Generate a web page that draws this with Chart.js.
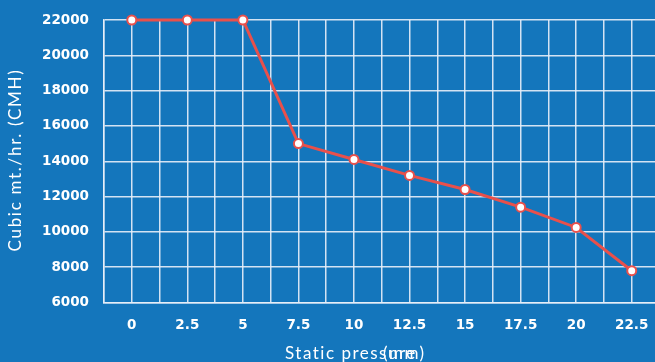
<!DOCTYPE html>
<html>
<head>
<meta charset="utf-8">
<script src="https://cdn.jsdelivr.net/npm/chart.js@4.4.0/dist/chart.umd.min.js"></script>
<style>
  html, body { margin: 0; padding: 0; background: #1476bc; overflow: hidden; }
  #wrap { width: 666px; height: 362px; }
</style>
</head>
<body>
<div id="wrap"><canvas id="grafico"></canvas></div>
<script>
// Dados
const pressoes = [0, 2.5, 5, 7.5, 10, 12.5, 15, 17.5, 20, 22.5];
const vazoes = [22000, 22000, 22000, 15000, 14100, 13200, 12400, 11400, 10250, 7800];
const yTicks = [6000, 8000, 10000, 12000, 14000, 16000, 18000, 20000, 22000];

const corGrade = 'rgba(232, 240, 248, 0.9)';
const corLinha = '#e9504b';

// Títulos dos eixos desenhados à mão (o original sobrepõe "(mm)" a "ure")
const titulos = {
    id: 'titulos',
    afterDraw(chart) {
        const c = chart.ctx;
        c.save();
        c.fillStyle = '#ffffff';
        c.font = '17px Lato';
        c.letterSpacing = '1.5px';
        c.textBaseline = 'alphabetic';
        c.textAlign = 'left';
        c.fillText('Static pressure', 285, 359);
        c.fillText('(mm)', 383, 359);

        // eixo Y
        c.letterSpacing = '1.7px';
        c.translate(16, 160);
        c.rotate(-Math.PI / 2);
        c.textAlign = 'center';
        c.textBaseline = 'middle';
        c.fillText('Cubic mt./hr. (CMH)', 0, 0);
        c.restore();
    }
};

const ctx = document.getElementById('grafico').getContext('2d');
new Chart(ctx, {
    type: 'line',
    data: {
        datasets: [{
            data: pressoes.map((p, i) => ({ x: p, y: vazoes[i] })),
            borderColor: corLinha,
            borderWidth: 3,
            pointRadius: 4.5,
            pointBorderWidth: 2,
            pointBackgroundColor: '#ffffff',
            pointBorderColor: corLinha,
            tension: 0,
            clip: false
        }]
    },
    options: {
        responsive: true,
        maintainAspectRatio: false,
        animation: false,
        layout: { padding: { top: 20, right: 0, left: 0, bottom: 0 } },
        plugins: {
            legend: { display: false },
            tooltip: { enabled: false }
        },
        scales: {
            x: {
                type: 'linear',
                min: -1.25,
                max: 23.75,
                afterBuildTicks(scale) {
                    const t = [];
                    for (let i = 0; i <= 20; i++) t.push({ value: -1.25 + i * 1.25 });
                    scale.ticks = t;
                },
                afterFit(scale) {
                    scale.height = 59.5;
                    scale.paddingLeft = 0;
                    scale.paddingRight = 0;
                },
                grid: { color: corGrade, lineWidth: 1.5, drawTicks: false },
                border: { color: corGrade, width: 1.5 },
                ticks: {
                    color: '#ffffff',
                    font: { family: 'DejaVu Sans', weight: 'bold', size: 13.5 },
                    padding: 15,
                    maxRotation: 0,
                    autoSkip: false,
                    callback: (v) => pressoes.includes(v) ? String(v) : ''
                }
            },
            y: {
                min: 6000,
                max: 22000,
                afterBuildTicks(scale) {
                    scale.ticks = yTicks.map(v => ({ value: v }));
                },
                afterFit(scale) {
                    scale.width = 104;
                    scale.paddingTop = 0;
                    scale.paddingBottom = 0;
                },
                grid: { color: corGrade, lineWidth: 1.5, drawTicks: false },
                border: { color: corGrade, width: 1.5 },
                ticks: {
                    color: '#ffffff',
                    font: { family: 'DejaVu Sans', weight: 'bold', size: 13.5 },
                    padding: 15,
                    callback: (v) => String(v)
                }
            }
        }
    },
    plugins: [titulos]
});
</script>
</body>
</html>
